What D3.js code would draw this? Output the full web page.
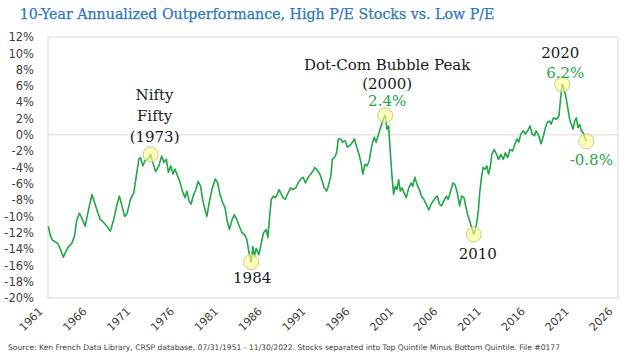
<!DOCTYPE html>
<html><head><meta charset="utf-8">
<script src="https://cdn.jsdelivr.net/npm/d3@7"></script>
<style>
html,body{margin:0;padding:0;background:#fff;}
svg{display:block;}
</style></head>
<body>
<svg id="chart" width="640" height="360"></svg>
<script>
// ---- DATA ----
const years = [
1961.61,1961.81,1962.07,1962.38,1962.69,1962.96,1963.33,1963.61,1963.91,1964.30,
1964.60,1964.87,1965.17,1965.51,1965.82,1966.20,1966.59,1966.89,1967.16,1967.54,
1967.81,1968.12,1968.43,1968.69,1969.07,1969.46,1969.72,1970.03,1970.33,1970.61,
1970.98,1971.36,1971.64,1971.94,1972.13,1972.39,1972.62,1972.90,1973.28,1973.54,
1973.85,1974.23,1974.54,1974.80,1975.08,1975.31,1975.57,1975.84,1976.06,1976.34,
1976.60,1976.91,1977.21,1977.41,1977.67,1977.90,1978.13,1978.44,1978.70,1978.98,
1979.21,1979.47,1979.70,1979.96,1980.27,1980.65,1980.93,1981.19,1981.50,1981.76,
1981.99,1982.26,1982.57,1982.83,1983.11,1983.40,1983.71,1983.98,1984.25,1984.48,
1984.75,1984.94,1985.12,1985.32,1985.63,1985.89,1986.16,1986.47,1986.66,1986.84,
1987.04,1987.30,1987.50,1987.73,1987.92,1988.11,1988.38,1988.65,1988.96,1989.25,
1989.53,1989.83,1990.10,1990.40,1990.67,1990.94,1991.25,1991.55,1991.82,1992.00,
1992.31,1992.58,1992.85,1993.08,1993.35,1993.54,1993.84,1994.00,1994.23,1994.49,
1994.69,1994.95,1995.18,1995.45,1995.72,1996.02,1996.29,1996.52,1996.79,1997.05,
1997.28,1997.48,1997.74,1997.97,1998.20,1998.51,1998.78,1999.00,1999.28,1999.57,
1999.88,2000.03,2000.23,2000.42,2000.61,2000.80,2000.99,2001.18,2001.37,2001.57,
2001.75,2001.95,2002.26,2002.44,2002.72,2002.98,2003.18,2003.41,2003.67,2003.93,
2004.16,2004.44,2004.70,2005.01,2005.27,2005.50,2005.77,2005.96,2006.23,2006.46,
2006.73,2007.00,2007.22,2007.49,2007.76,2007.99,2008.26,2008.52,2008.75,2009.02,
2009.21,2009.44,2009.67,2009.90,2010.13,2010.29,2010.47,2010.66,2010.81,2011.01,
2011.21,2011.43,2011.62,2011.81,2012.01,2012.19,2012.46,2012.73,2012.96,2013.22,
2013.50,2013.73,2013.99,2014.25,2014.56,2014.83,2015.06,2015.25,2015.51,2015.79,
2016.02,2016.28,2016.55,2016.78,2017.05,2017.23,2017.54,2017.81,2018.08,2018.31,
2018.50,2018.77,2018.95,2019.23,2019.53,2019.84,2020.03,2020.22,2020.38,2020.61,
2020.87,2021.07,2021.25,2021.45,2021.64,2021.82,2022.02,2022.21,2022.40,2022.60,
2022.79,2022.97
];
const values = [
-11.2,-12.2,-12.9,-13.1,-13.3,-13.9,-15.0,-14.3,-13.7,-13.3,
-12.4,-10.4,-9.6,-10.4,-11.2,-9.2,-7.3,-8.3,-9.2,-10.4,
-10.6,-11.0,-11.4,-11.8,-10.4,-8.5,-7.5,-8.8,-10.0,-9.6,
-7.9,-7.1,-5.1,-3.0,-2.8,-3.8,-3.2,-3.0,-2.4,-3.4,
-4.5,-3.8,-2.6,-3.4,-3.0,-4.6,-3.8,-4.8,-4.2,-5.0,
-5.7,-6.9,-7.7,-6.9,-8.1,-8.5,-7.5,-6.7,-5.7,-6.3,
-7.9,-9.1,-10.0,-8.3,-6.7,-5.4,-5.9,-7.3,-8.3,-8.9,
-10.4,-11.6,-10.4,-9.8,-10.4,-11.2,-12.0,-12.2,-12.8,-14.3,
-15.6,-13.7,-14.9,-13.9,-14.7,-13.3,-12.0,-11.6,-12.6,-10.2,
-7.9,-7.5,-7.7,-7.3,-6.7,-7.1,-7.7,-7.9,-7.1,-6.5,
-6.7,-6.5,-5.9,-5.4,-5.2,-5.9,-5.2,-4.8,-4.4,-4.0,
-4.4,-4.8,-5.7,-6.5,-6.9,-6.3,-5.0,-3.0,-2.8,-2.2,
-0.5,-0.5,-0.9,-0.7,-1.5,-1.3,-0.9,-0.5,-1.5,-2.4,
-3.4,-4.8,-3.6,-3.8,-3.2,-1.3,-0.3,-0.9,0.1,1.1,
2.1,2.4,0.7,1.1,-2.0,-5.0,-7.3,-6.3,-6.7,-5.5,
-6.9,-6.5,-7.3,-7.7,-6.5,-5.9,-6.3,-5.2,-6.1,-6.7,
-7.5,-7.9,-8.5,-9.2,-8.5,-8.1,-7.7,-7.5,-8.5,-8.7,
-8.1,-7.5,-7.9,-6.9,-5.9,-6.1,-7.1,-8.7,-7.5,-7.7,
-8.7,-9.8,-10.6,-11.4,-12.2,-11.6,-10.8,-9.2,-7.1,-5.2,
-4.0,-4.2,-3.8,-4.8,-4.0,-2.4,-1.8,-2.4,-3.0,-2.4,
-3.0,-2.2,-2.8,-1.8,-2.0,-1.1,-0.5,-0.9,0.1,0.5,
0.1,0.5,1.1,0.1,-0.1,0.5,-0.1,-1.1,-0.1,0.9,
1.5,1.7,1.3,2.1,1.9,2.3,4.4,6.2,5.8,4.8,
3.2,1.9,1.3,0.7,1.7,2.1,0.9,1.3,0.5,0.3,
-0.3,-0.8
];
const tickYears = [1961,1966,1971,1976,1981,1986,1991,1996,2001,2006,2011,2016,2021,2026];
const yTicks = [12,10,8,6,4,2,0,-2,-4,-6,-8,-10,-12,-14,-16,-18,-20];

// annotations: highlighted points
const markYears  = [1973.28, 1984.75, 2000.03, 2010.13, 2020.22, 2022.97];
const markValues = [-2.4, -15.6, 2.4, -12.2, 6.2, -0.8];

const titleText = "10-Year Annualized Outperformance, High P/E Stocks vs. Low P/E";
const sourceText = "Source: Ken French Data Library, CRSP database, 07/31/1951 - 11/30/2022. Stocks separated into Top Quintile Minus Bottom Quintile. File #0177";

// ---- LAYOUT ----
const svg = d3.select("#chart");
const plot = {left: 48, right: 618, top: 37, bottom: 298};
const x = d3.scaleLinear().domain([1961.58, 2026.58]).range([plot.left, plot.right]);
const y = d3.scaleLinear().domain([-20, 12]).range([plot.bottom, plot.top]);

const GREEN = "#21a846";
const serif = "'DejaVu Serif', 'Liberation Serif', serif";
const sans = "'DejaVu Sans', sans-serif";

// title
svg.append("text").attr("x", 257).attr("y", 19).attr("text-anchor", "middle")
  .attr("font-family", serif).attr("font-size", 14.2).attr("fill", "#2d78bd")
  .attr("stroke", "#2d78bd").attr("stroke-width", 0.25)
  .text(titleText);

// plot frame
svg.append("rect").attr("x", plot.left).attr("y", plot.top)
  .attr("width", plot.right - plot.left).attr("height", plot.bottom - plot.top)
  .attr("fill", "none").attr("stroke", "#d9d9d9").attr("stroke-width", 1);

// zero line
svg.append("line").attr("x1", plot.left).attr("x2", plot.right)
  .attr("y1", y(0)).attr("y2", y(0)).attr("stroke", "#d9d9d9").attr("stroke-width", 1);

// y axis
const yAxis = svg.append("g").attr("transform", `translate(${plot.left},0)`)
  .call(d3.axisLeft(y).tickValues(yTicks).tickSize(0).tickPadding(14).tickFormat(d => d + "%"));
yAxis.select(".domain").remove();
yAxis.selectAll("text").attr("font-family", sans).attr("font-size", 11.5).attr("fill", "#404040");

// x axis
const xAxis = svg.append("g").attr("transform", `translate(0,${plot.bottom})`)
  .call(d3.axisBottom(x).tickValues(tickYears.map(t => t + 0.58)).tickSize(0)
    .tickFormat(d => String(Math.floor(d))));
xAxis.select(".domain").remove();
xAxis.selectAll("text")
  .attr("x", 0).attr("y", 0).attr("dy", 0)
  .attr("text-anchor", "end")
  .attr("transform", "translate(-5,14) rotate(-45)")
  .attr("font-family", sans).attr("font-size", 11).attr("fill", "#404040");

// line
const data = years.map((yr, i) => ({yr, v: values[i]}));
svg.append("path").datum(data)
  .attr("fill", "none").attr("stroke", GREEN).attr("stroke-width", 1.6)
  .attr("stroke-linejoin", "round")
  .attr("d", d3.line().x(d => x(d.yr)).y(d => y(d.v)));

// highlight circles
svg.selectAll("circle.mark").data(markYears.map((yr, i) => ({yr, v: markValues[i]})))
  .enter().append("circle").attr("class", "mark")
  .attr("cx", d => x(d.yr)).attr("cy", d => y(d.v)).attr("r", 7.5)
  .attr("fill", "#ffff8c").attr("fill-opacity", 0.6)
  .attr("stroke", "#c9c98f").attr("stroke-width", 1);

// annotation texts
function label(txt, xx, yy, color) {
  svg.append("text").attr("x", xx).attr("y", yy).attr("text-anchor", "middle")
    .attr("font-family", serif).attr("font-size", 15).attr("fill", color || "#1a1a1a")
    .text(txt);
}
label("Nifty", x(1973.28) + 4, 100);
label("Fifty", x(1973.28) + 4, 121);
label("(1973)", x(1973.28) + 4, 142);
label("1984", x(1984.75) + 1, 283);
label("Dot-Com Bubble Peak", x(2000.03) + 2, 70);
label("(2000)", x(2000.03) + 2, 89);
label("2.4%", x(2000.03) + 2, 106, GREEN);
label("2010", x(2010.13) + 4, 259);
label("2020", x(2020.22) - 2, 58);
label("6.2%", x(2020.22) + 3, 78, GREEN);
label("-0.8%", x(2022.97) + 5, 165, GREEN);

// source
svg.append("text").attr("x", 8).attr("y", 350)
  .attr("font-family", sans).attr("font-size", 7.6).attr("fill", "#404040")
  .text(sourceText);
</script>
</body></html>
